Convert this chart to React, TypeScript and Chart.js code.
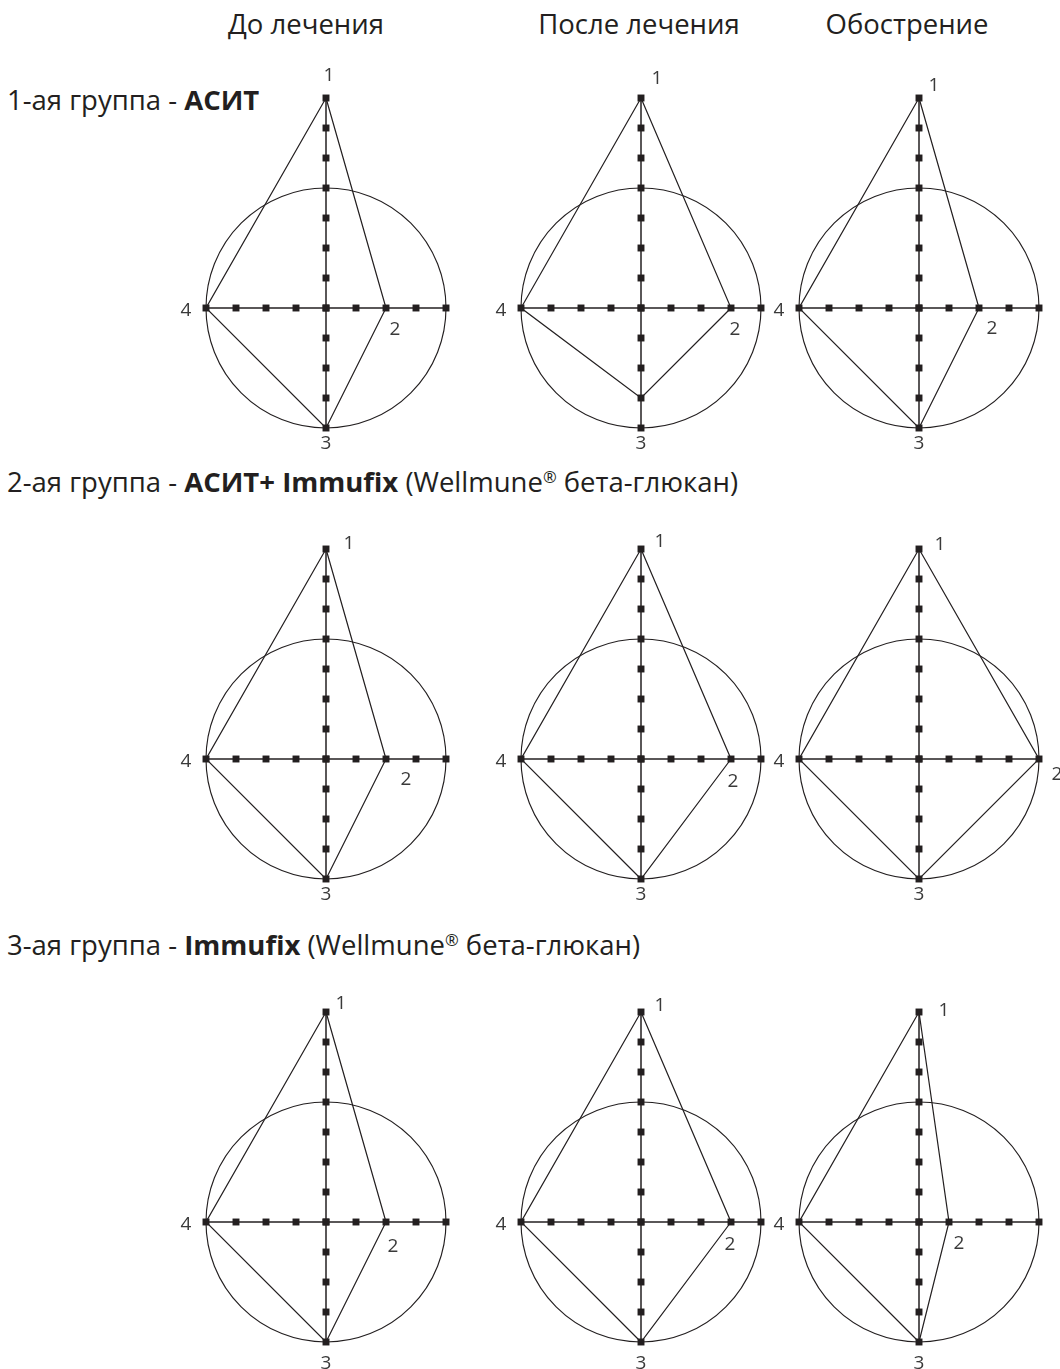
import React, { useEffect, useRef } from 'react';
import { Chart, registerables } from 'chart.js';

Chart.register(...registerables);

// ---- data ----
const stageTitles = ['До лечения', 'После лечения', 'Обострение'];
const groupNumbers = ['1-ая группа - ', '2-ая группа - ', '3-ая группа - '];
const groupTherapies = ['АСИТ', 'АСИТ+ Immufix', 'Immufix'];
const groupNotes = ['', ' (Wellmune® бета-глюкан)', ' (Wellmune® бета-глюкан)'];
const axisNames = ['1', '2', '3', '4'];

// values on axis 1 (up), 2 (right), 3 (down), 4 (left) for each stage
const group1Values = [
  [7, 2, 4, 4],
  [7, 3, 3, 4],
  [7, 2, 4, 4],
];
const group2Values = [
  [7, 2, 4, 4],
  [7, 3, 4, 4],
  [7, 4, 4, 4],
];
const group3Values = [
  [7, 2, 4, 4],
  [7, 3, 4, 4],
  [7, 1, 4, 4],
];

const horizontalTicks = [-4, -3, -2, -1, 0, 1, 2, 3, 4];
const verticalTicks = [-4, -3, -2, -1, 0, 1, 2, 3, 4, 5, 6, 7];
const normRadius = 4;

// ---- layout ----
const INK = '#231f20';
const LABEL_INK = '#3a3a3a';
const UNIT = 30;
const PAD = 48;
const columnX = [326, 641, 919];
const rowY = [308, 759, 1222];
const stageCenterX = [306, 639, 907];
const stageBaseline = 34;
const groupBaselines = [110, 492, 955];
const TITLE_SIZE = 27.5;
const LABEL_FONT = '19px "Open Sans", sans-serif';

// label offsets (px) for axis names 1 and 2, per group and stage
const label1Nudge = [
  [[3, -22], [16, -19], [15, -12]],
  [[23, -5], [19, -7], [21, -4]],
  [[15, -8], [19, -6], [25, -1]],
];
const label2Nudge = [
  [[9, 22], [4, 22], [13, 21]],
  [[20, 21], [2, 23], [18, 16]],
  [[7, 25], [-1, 23], [10, 22]],
];
const label3Drop = [16, 16, 22];
const label4Nudge = [-20, 3];

const groupValues = [group1Values, group2Values, group3Values];

type PanelProps = {
  values: number[];
  left: number;
  top: number;
  n1: number[];
  n2: number[];
  drop3: number;
};

function Panel({ values, left, top, n1, n2, drop3 }: PanelProps) {
  const ref = useRef<HTMLCanvasElement | null>(null);

  useEffect(() => {
    if (!ref.current) return;
    const [v1, v2, v3, v4] = values;

    const decor = {
      id: 'panelDecor',
      beforeDatasetsDraw(chart: any) {
        const { ctx } = chart;
        const xs = chart.scales.x;
        const ys = chart.scales.y;
        const cx = xs.getPixelForValue(0);
        const cy = ys.getPixelForValue(0);
        const r = xs.getPixelForValue(normRadius) - cx;
        ctx.save();
        ctx.strokeStyle = INK;
        ctx.lineWidth = 1.15;
        ctx.beginPath();
        ctx.arc(cx, cy, r, 0, Math.PI * 2);
        ctx.stroke();
        ctx.restore();
      },
      afterDatasetsDraw(chart: any) {
        const { ctx } = chart;
        const xs = chart.scales.x;
        const ys = chart.scales.y;
        ctx.save();
        ctx.fillStyle = LABEL_INK;
        ctx.font = LABEL_FONT;
        ctx.textAlign = 'center';
        ctx.textBaseline = 'middle';
        ctx.fillText(axisNames[0], xs.getPixelForValue(0) + n1[0], ys.getPixelForValue(v1) + n1[1]);
        ctx.fillText(axisNames[1], xs.getPixelForValue(v2) + n2[0], ys.getPixelForValue(0) + n2[1]);
        ctx.fillText(axisNames[2], xs.getPixelForValue(0), ys.getPixelForValue(verticalTicks[0]) + drop3);
        ctx.fillText(
          axisNames[3],
          xs.getPixelForValue(horizontalTicks[0]) + label4Nudge[0],
          ys.getPixelForValue(0) + label4Nudge[1]
        );
        ctx.restore();
      },
    };

    const axisStyle = {
      showLine: true,
      borderColor: INK,
      borderWidth: 1.5,
      pointStyle: 'rect' as const,
      pointRadius: 4.9,
      pointBackgroundColor: INK,
      pointBorderWidth: 0,
      clip: false as const,
    };

    const chart = new Chart(ref.current, {
      type: 'scatter',
      data: {
        datasets: [
          { ...axisStyle, data: horizontalTicks.map((x) => ({ x, y: 0 })) },
          { ...axisStyle, data: verticalTicks.map((y) => ({ x: 0, y })) },
          {
            data: [
              { x: 0, y: v1 },
              { x: v2, y: 0 },
              { x: 0, y: -v3 },
              { x: -v4, y: 0 },
              { x: 0, y: v1 },
            ],
            showLine: true,
            borderColor: INK,
            borderWidth: 1.2,
            pointRadius: 0,
            tension: 0,
            clip: false as const,
          },
        ],
      },
      options: {
        animation: false,
        responsive: false,
        maintainAspectRatio: false,
        events: [],
        layout: { padding: PAD },
        scales: {
          x: { type: 'linear', min: horizontalTicks[0], max: horizontalTicks[horizontalTicks.length - 1], display: false },
          y: { type: 'linear', min: verticalTicks[0], max: verticalTicks[verticalTicks.length - 1], display: false },
        },
        plugins: { legend: { display: false }, tooltip: { enabled: false } },
      },
      plugins: [decor],
    });
    // redraw once the label font is surely available to the canvas
    if (document.fonts && document.fonts.load) {
      document.fonts.load(LABEL_FONT).then(() => chart.update()).catch(() => undefined);
    }
    return () => chart.destroy();
  }, [values, n1, n2, drop3]);

  const w = (horizontalTicks.length - 1) * UNIT + 2 * PAD;
  const h = (verticalTicks.length - 1) * UNIT + 2 * PAD;
  return (
    <canvas
      ref={ref}
      width={w}
      height={h}
      style={{ position: 'absolute', left, top, width: w, height: h }}
    />
  );
}

function Note({ text }: { text: string }) {
  const parts = text.split('®');
  return (
    <>
      {parts.map((p, i) => (
        <React.Fragment key={i}>
          {p}
          {i < parts.length - 1 && (
            <span style={{ fontSize: '0.6em', verticalAlign: '0.55em', lineHeight: 0 }}>®</span>
          )}
        </React.Fragment>
      ))}
    </>
  );
}

export default function App() {
  const asc = 0.888 * TITLE_SIZE;
  return (
    <div
      style={{
        position: 'absolute',
        left: 0,
        top: 0,
        width: 1060,
        height: 1369,
        overflow: 'hidden',
        background: '#ffffff',
        fontFamily: '"Open Sans", sans-serif',
        color: INK,
      }}
    >
      {stageTitles.map((t, i) => (
        <div
          key={t}
          style={{
            position: 'absolute',
            left: stageCenterX[i] - 150,
            width: 300,
            top: stageBaseline - asc,
            fontSize: TITLE_SIZE,
            lineHeight: `${TITLE_SIZE}px`,
            textAlign: 'center',
            whiteSpace: 'nowrap',
          }}
        >
          {t}
        </div>
      ))}
      {groupNumbers.map((g, i) => (
        <div
          key={g}
          style={{
            position: 'absolute',
            left: 7,
            top: groupBaselines[i] - asc,
            fontSize: TITLE_SIZE,
            lineHeight: `${TITLE_SIZE}px`,
            whiteSpace: 'nowrap',
          }}
        >
          {g}
          <b style={{ fontWeight: 700 }}>{groupTherapies[i]}</b>
          <Note text={groupNotes[i]} />
        </div>
      ))}
      {groupValues.map((stages, gi) =>
        stages.map((vals, si) => (
          <Panel
            key={`${gi}-${si}`}
            values={vals}
            left={columnX[si] - 4 * UNIT - PAD}
            top={rowY[gi] - 7 * UNIT - PAD}
            n1={label1Nudge[gi][si]}
            n2={label2Nudge[gi][si]}
            drop3={label3Drop[gi]}
          />
        ))
      )}
    </div>
  );
}
